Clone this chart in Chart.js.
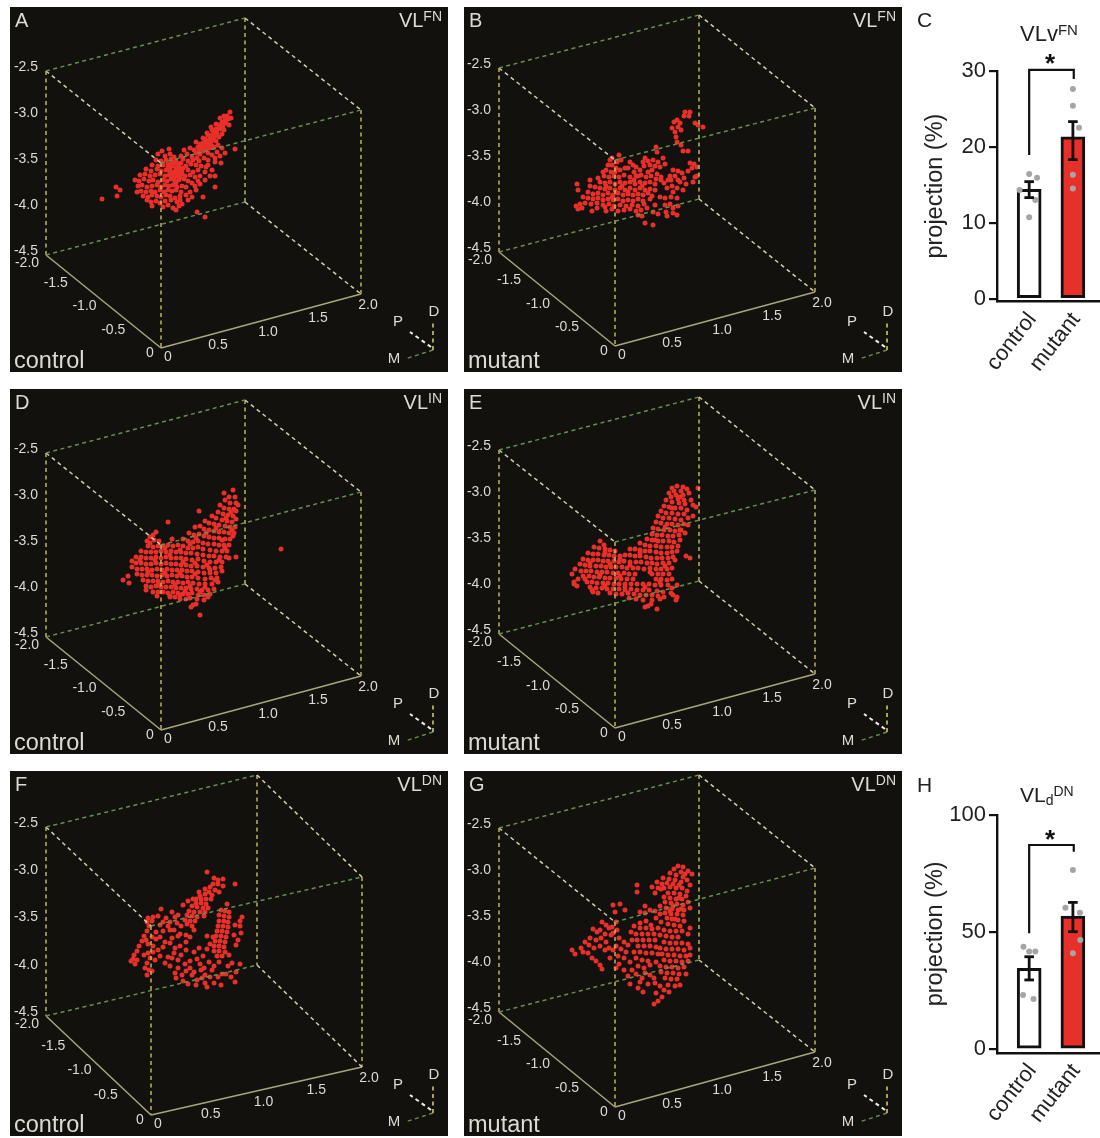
<!doctype html>
<html><head><meta charset="utf-8">
<style>html,body{margin:0;background:#fff}body{position:relative;width:1100px;height:1138px;overflow:hidden}
canvas{position:absolute;filter:blur(0.4px)}</style>
<script src="https://cdn.jsdelivr.net/npm/chart.js@4/dist/chart.umd.min.js"></script>
</head><body>
<script>
// ---------- tick labels ----------
const zTicks=['-2.5','-3.0','-3.5','-4.0','-4.5'];
const yTicks=['-2.0','-1.5','-1.0','-0.5','0'];
const xTicks=['0','0.5','1.0','1.5','2.0'];
const barCategories=['control','mutant'];
// ---------- labelled cells, read as x,y pairs in the figure's plane ----------
const cellsA=[102,199,116,187,120,190,117,196,
230,112,231,118,228,119,225,120,226,123,222,122,223,126,219,125,220,129,216,129,217,133,214,132,215,136,212,135,213,139,210,138,211,142,207,141,208,145,205,144,206,148,202,147,203,151,199,150,200,154,196,153,
235,149,218,145,222,148,225,153,217,152,221,163,215,162,220,156,196,142,203,143,
169,149,162,151,158,154,165,156,170,154,174,157,181,156,187,154,192,157,197,158,
156,160,161,161,166,160,171,159,176,161,183,159,188,161,193,160,199,161,204,158,208,160,
152,165,158,166,163,165,168,164,172,166,177,165,181,163,186,166,191,164,196,165,201,166,206,167,
146,169,151,171,157,169,161,171,166,170,170,169,174,172,179,170,183,168,188,170,193,172,198,170,205,172,
140,175,145,174,150,176,155,175,160,174,165,176,169,175,173,174,177,176,181,174,185,176,190,175,195,177,200,176,
135,180,139,181,144,179,149,181,153,180,158,182,163,180,167,181,171,179,175,181,179,180,184,179,188,181,192,183,198,181,
138,186,142,185,147,187,152,186,157,185,161,187,165,185,169,186,173,185,177,187,182,186,186,187,195,186,
137,192,141,191,146,192,151,191,155,192,160,190,164,192,168,190,172,191,176,190,181,192,190,192,
143,196,148,197,152,195,157,196,161,197,166,195,170,196,175,198,180,196,186,195,
147,200,151,202,156,201,160,203,165,201,171,200,177,202,180,200,152,206,163,207,168,205,173,208,179,206,176,210,182,204,
203,197,215,187,197,212,205,217,172,162,176,168,178,164,174,163,179,167,175,172,172,177,177,172,180,177,170,172,168,167,182,172,174,178,176,183,
224,116,212,130,208,135,205,139,200,144,210,148,214,147,208,153,212,155,215,158,208,165,212,170,210,176,205,180,200,184,196,190,192,197,188,200,215,176,190,148,184,150,
229,125,224,130,219,137,222,134,216,141,212,146,227,116,220,118,216,124,211,127,207,133,203,138,198,147,194,150];
const cellsB=[685,112,690,112,684,116,689,116,677,120,674,122,680,123,672,128,678,127,675,132,681,130,676,137,695,123,698,125,703,127,677,142,681,145,683,151,688,151,
656,147,657,152,619,155,630,162,645,158,648,161,653,160,658,162,663,158,655,166,660,167,665,164,
690,163,694,164,692,168,697,167,688,171,695,177,693,182,697,176,
673,170,678,171,682,173,675,176,684,178,671,180,680,182,686,184,672,186,677,188,683,190,673,192,678,180,
668,180,664,183,670,176,667,188,661,180,
610,160,612,165,606,170,611,172,616,168,620,170,634,172,640,170,644,166,648,172,652,170,657,174,
604,176,609,177,614,176,619,177,624,175,630,177,636,176,641,175,646,177,651,176,656,179,661,177,
600,182,605,183,610,182,615,184,620,182,625,183,630,182,635,184,640,182,645,183,650,182,655,184,
590,180,577,184,578,190,590,186,595,187,600,188,605,189,610,188,615,190,620,188,625,190,630,188,635,190,640,188,645,190,650,189,655,190,
588,192,593,194,598,193,603,195,608,193,613,195,618,193,623,195,628,194,633,195,638,194,643,195,648,193,652,196,
583,197,588,198,593,199,598,198,603,200,608,199,613,200,618,199,623,201,628,200,633,201,638,199,643,201,650,199,660,197,665,198,671,197,677,198,
576,206,580,204,585,203,582,208,578,209,591,204,597,203,603,205,609,204,614,206,620,205,626,206,632,205,638,206,644,204,
592,211,597,208,605,207,612,209,618,211,624,210,630,209,636,211,641,210,647,208,655,205,
665,205,670,204,673,208,678,206,666,212,673,213,677,215,667,216,658,214,653,212,638,215,645,223,653,225,642,216,606,211,
621,160,628,168,617,162,636,167,643,162,598,178,603,172,615,172,625,168,633,165,638,176,650,165,612,158,608,165,622,186,628,192,612,197,606,186,634,180,642,186];
const cellsD=[281,549,123,580,128,576,129,583,236,557,193,605,196,604,191,607,200,615,168,522,199,511,153,535,156,532,147,541,150,537,
233,490,224,493,229,497,235,497,225,500,230,503,236,503,220,505,224,508,229,509,234,509,238,505,
218,512,223,514,228,515,233,516,236,511,212,516,216,518,222,520,227,521,232,522,236,519,
205,521,209,523,214,524,219,525,225,526,230,527,235,527,
195,527,200,526,204,529,209,530,214,531,219,532,224,532,229,533,234,533,
189,533,194,535,199,534,204,536,209,537,214,538,219,538,225,539,230,539,233,536,
154,540,159,541,172,539,183,539,188,541,193,542,198,541,203,543,208,544,214,544,219,545,224,545,229,545,
148,546,153,547,158,546,163,546,168,545,173,546,178,545,183,546,188,548,193,548,198,547,203,549,210,550,216,551,222,551,227,551,
141,551,146,552,151,552,156,552,161,551,166,552,171,551,176,552,181,552,186,553,191,553,197,554,203,555,209,556,214,556,220,557,226,557,
136,557,141,557,146,558,151,558,156,557,161,558,166,557,171,558,176,558,181,558,186,559,192,560,198,559,204,561,210,562,216,562,222,562,229,558,
132,561,136,563,141,563,146,564,151,564,156,563,161,564,166,563,171,564,176,564,181,565,186,565,191,566,197,566,203,567,209,568,215,568,221,567,
132,567,137,569,142,569,147,569,152,570,157,569,162,570,167,569,172,570,177,570,182,570,187,571,192,571,198,572,204,573,210,573,216,573,222,571,
137,574,142,575,147,575,152,575,157,576,162,575,167,576,172,575,177,576,182,576,187,577,192,577,198,578,205,579,211,578,217,578,
143,580,148,581,153,581,158,581,163,582,168,581,173,582,178,582,183,583,188,582,193,583,199,584,205,584,212,584,218,582,
146,586,151,587,156,586,161,587,166,587,171,587,176,588,181,588,186,588,191,589,197,589,202,590,208,590,214,589,
146,590,153,592,158,592,163,592,168,593,173,592,178,593,183,594,188,594,192,593,198,595,204,595,210,594,
157,596,170,597,175,597,180,599,186,599,190,598,197,599,204,600,208,597,
150,543,165,548,180,550,190,544,196,538,206,533,216,528,226,518,231,512,140,560,155,560,170,555,183,562,195,563,207,565,219,560,148,572,165,573,180,573,195,574,210,570,158,585,175,585,190,586,205,587,170,596,185,591,200,592,215,580,225,548,232,530,222,540,180,595];
const cellsE=[683,487,677,486,672,488,698,488,687,489,681,491,674,491,669,493,676,495,683,495,689,493,
671,497,678,499,684,500,666,500,672,502,679,503,685,504,693,505,691,500,
664,506,669,507,675,508,681,508,687,510,696,507,661,511,666,513,672,513,678,514,684,514,
658,516,663,518,669,518,675,519,681,520,688,518,693,516,656,522,661,523,667,524,672,524,678,525,684,524,
653,528,658,529,664,530,670,530,675,531,681,530,652,534,657,535,662,535,668,536,673,536,679,535,685,533,
647,539,652,540,658,541,663,541,669,541,674,542,680,540,600,541,604,545,640,543,645,545,650,546,656,546,661,547,667,547,672,547,678,546,
594,547,599,548,605,549,610,550,615,551,630,549,635,549,640,550,645,551,650,551,656,552,661,553,667,553,672,552,677,551,
588,553,593,554,598,554,604,555,609,555,614,556,620,556,625,555,630,555,635,556,640,556,646,557,651,558,657,558,662,558,668,558,673,557,690,558,686,556,
583,559,588,560,593,560,598,560,603,561,608,561,614,561,619,562,624,561,630,562,636,562,641,562,647,563,652,563,657,564,663,563,669,563,
580,564,585,565,590,566,596,566,601,566,606,567,611,567,616,567,622,567,627,568,633,568,638,568,644,569,650,568,656,569,661,569,667,569,672,568,
575,569,581,571,586,571,591,571,597,572,602,572,607,572,613,573,618,573,624,573,629,574,635,574,652,574,658,574,663,574,669,574,
572,574,583,576,589,576,594,577,599,577,605,578,610,578,616,578,621,579,627,579,633,579,656,579,661,579,667,580,672,579,
574,582,578,579,587,582,592,582,597,583,603,583,608,583,614,584,619,584,625,584,631,584,637,584,643,584,649,584,655,585,661,585,668,585,
574,584,577,586,590,587,596,588,602,588,607,589,613,589,619,589,625,590,631,589,637,590,643,590,649,590,657,591,663,592,672,588,677,585,
593,592,610,593,616,594,622,594,628,593,634,594,640,595,646,595,652,595,658,596,664,597,671,593,
592,590,598,593,629,598,636,599,643,600,652,600,660,599,673,595,677,597,676,600,
645,607,648,606,651,604,657,609,
605,552,620,559,640,553,655,540,665,527,672,508,680,497,590,563,610,564,630,565,650,572,665,566,600,575,620,576,585,579,605,586,625,587,645,587,660,582,675,560,680,530,688,525];
const cellsF=[207,872,214,878,218,880,223,879,213,884,218,884,223,886,210,887,205,889,215,890,219,892,235,884,205,894,212,895,200,896,
196,899,201,899,206,899,211,899,196,903,201,903,206,904,192,906,197,907,203,908,208,908,189,911,194,912,200,912,205,912,227,904,
161,909,187,915,192,916,197,917,204,916,185,920,190,921,195,921,
148,918,153,917,158,916,166,918,175,917,147,922,152,921,163,922,170,922,177,923,181,926,187,924,192,926,
221,910,225,911,229,912,219,915,224,916,229,917,219,921,224,921,228,922,218,926,223,926,228,927,217,931,222,931,227,932,216,936,221,936,226,937,215,941,220,941,225,942,214,946,219,946,224,947,214,951,219,951,225,952,217,956,222,956,229,955,
242,917,240,921,235,925,240,926,241,933,234,935,238,940,236,945,
149,926,147,931,144,936,142,941,139,946,137,951,134,955,146,940,148,944,152,937,
133,959,137,960,131,961,135,964,144,955,148,953,150,958,147,963,149,970,147,975,145,968,152,971,
168,926,174,930,180,934,163,931,156,939,160,937,165,942,172,938,178,936,186,935,190,937,194,930,170,943,163,947,158,950,153,952,160,956,155,960,175,948,180,946,186,942,
168,957,165,963,172,958,178,960,185,964,190,961,197,959,203,956,207,949,210,944,213,937,207,936,
200,964,204,968,186,971,194,972,178,968,175,973,176,978,183,981,192,975,197,980,205,975,
209,962,212,970,210,977,205,983,207,987,214,983,218,977,222,974,226,974,231,977,235,982,221,985,240,964,236,972,
183,905,188,901,193,899,199,892,209,892,178,915,172,912,170,930,160,925,156,932,153,946,186,950,181,955,174,953,199,948,194,952,
170,966,182,975,190,968,201,970,214,966,219,962,228,966,232,963,196,985,202,978,188,984];
const cellsG=[572,950,575,954,581,948,583,952,602,922,606,925,609,928,600,930,605,934,597,932,593,929,611,935,590,938,596,940,601,938,606,942,585,942,589,945,594,948,600,946,605,950,609,948,588,953,592,958,596,961,600,965,602,969,
637,885,637,892,613,905,620,904,615,912,625,910,612,927,616,922,613,933,617,930,
678,866,683,867,674,869,681,872,688,871,692,874,670,873,676,875,683,877,663,878,669,879,675,880,681,882,687,880,690,885,
657,882,662,884,652,887,658,888,664,888,670,887,676,888,682,888,687,891,668,893,674,893,680,894,686,896,664,897,670,898,676,899,682,899,688,902,
665,902,671,903,677,904,683,905,660,906,666,908,672,909,678,910,684,910,690,908,665,913,671,914,677,914,683,915,
645,906,640,912,645,913,650,910,655,911,660,914,667,918,672,919,678,920,684,921,656,918,661,922,668,924,674,925,680,926,
640,923,646,921,651,925,634,926,640,928,646,928,652,929,658,928,664,930,670,931,676,931,682,931,
631,932,636,934,642,934,648,934,654,934,660,935,666,936,672,937,678,937,690,928,688,934,
619,938,624,942,628,945,616,946,621,949,626,952,618,956,624,958,630,962,619,964,632,940,637,940,643,940,649,940,655,940,
638,946,644,946,650,946,656,947,634,952,640,952,646,953,652,953,658,954,636,958,642,960,648,961,
664,942,670,943,676,943,682,943,688,944,660,948,666,949,672,949,678,949,684,950,690,948,662,954,668,955,674,955,680,956,686,956,690,955,
664,960,670,961,676,961,682,962,688,961,660,966,666,967,672,967,678,968,684,967,661,972,667,973,673,973,679,974,686,974,
632,970,638,966,644,968,650,965,656,962,665,978,671,979,677,979,668,985,675,986,680,985,655,983,660,986,664,990,669,992,656,993,662,997,658,1001,654,1004,645,973,650,975,642,978,643,992,638,988,
673,884,667,883,679,885,685,874,673,906,679,898,670,911,675,919,681,909,661,889,655,893,
613,950,610,958,616,968,624,970,628,976,636,974,640,982,630,984,648,984,654,978];
// ---------- bar panel values ----------
const fnMeans=[14.4,21.3],fnUpper=[15.4,23.3],fnLower=[13.3,18.3];
const fnControlDots=[[0,16.4],[0.18,15.9],[-0.22,14.3],[0.14,13.0],[0,10.7]];
const fnMutantDots=[[0,27.6],[0,25.4],[0.14,22.5],[0,16.3],[0,14.5]];
const fnBracket=[18.9,30.1,28.9];
const dnMeans=[34.6,56.9],dnUpper=[39.5,62.7],dnLower=[29.6,50.2];
const dnControlDots=[[-0.13,43.8],[0,41.7],[0.14,41.7],[-0.14,23.2],[0.1,21.5]];
const dnMutantDots=[[0,76.5],[-0.17,60.4],[0.16,58.3],[0.17,46.6],[0,41]];
const dnBracket=[49.5,87.2,84.3];

Chart.defaults.font.family="'Liberation Sans',Arial,sans-serif";
const RED='#e8302a',TXT='#dcdcd2',GREEN='#64924e',PALE='#d0d0ac',YEL='#bdb55c',AXIS='#a8a67c';
function pairs(a){const o=[];for(let i=0;i+1<a.length;i+=2)o.push({x:a[i],y:a[i+1]});return o}
function edge(a,b,c,solid,w){return{type:'scatter',showLine:true,data:[{x:a[0],y:a[1]},{x:b[0],y:b[1]}],borderColor:c,borderWidth:w||1.5,borderDash:solid?[]:[4,3.5],pointRadius:0,order:0}}
function runs(ctx,parts,x,y,color,right){
  ctx.save();ctx.fillStyle=color;ctx.textBaseline='alphabetic';ctx.textAlign='left';
  let w=0;parts.forEach(p=>{ctx.font=p.s+"px 'Liberation Sans'";w+=ctx.measureText(p.t).width});
  let cx=right?x-w:x;
  parts.forEach(p=>{ctx.font=p.s+"px 'Liberation Sans'";ctx.fillText(p.t,cx,y+(p.dy||0));cx+=ctx.measureText(p.t).width});
  ctx.restore();
}
function panel(cfg){
  const [L,T,R,B]=cfg.box,c=cfg.cube;
  const cv=document.createElement('canvas');cv.width=R-L;cv.height=B-T;
  cv.style.left=L+'px';cv.style.top=T+'px';document.body.appendChild(cv);
  const ds=[
    edge(c.tl,c.tb,GREEN),edge(c.tb,c.tr,PALE),edge(c.tl,c.tc,PALE),edge(c.tc,c.tr,GREEN),
    edge(c.bl,c.bb,GREEN),edge(c.bb,c.br,PALE),
    edge(c.tl,c.bl,YEL),edge(c.tb,c.bb,YEL),edge(c.tr,c.br,YEL),edge(c.tc,c.f,YEL),
    edge(c.bl,c.f,AXIS,true),edge(c.f,c.br,AXIS,true),
    edge(c.o,[c.o[0],c.o[1]-28],YEL,false,1.8),edge([c.o[0]-2,c.o[1]-3],[c.o[0]-23,c.o[1]-18],'#eeeeee',false,2),edge(c.o,[c.o[0]-28,c.o[1]+9],GREEN,false,1.4),
    {type:'scatter',data:pairs(cfg.cells),backgroundColor:RED,borderWidth:0,pointRadius:2.5,order:5}
  ];
  new Chart(cv,{type:'scatter',data:{datasets:ds},options:{responsive:false,animation:false,events:[],
    layout:{padding:0,autoPadding:false},
    plugins:{legend:{display:false},tooltip:{enabled:false}},
    scales:{x:{type:'linear',display:false,min:L,max:R},y:{type:'linear',display:false,min:T,max:B,reverse:true}}},
    plugins:[{id:'bg',beforeDraw(ch){ch.ctx.save();ch.ctx.fillStyle='#12110e';ch.ctx.fillRect(0,0,R-L,B-T);ch.ctx.restore()},
      afterDraw(ch){const g=ch.ctx,sx=ch.scales.x,sy=ch.scales.y;
        const P=(x,y)=>[sx.getPixelForValue(x),sy.getPixelForValue(y)];
        const lerp=(a,b,t)=>[a[0]+(b[0]-a[0])*t,a[1]+(b[1]-a[1])*t];
        g.save();g.fillStyle=TXT;g.font="14px 'Liberation Sans'";g.textBaseline='middle';
        zTicks.forEach((t,i)=>{const q=lerp(c.tl,c.bl,i/4);const p=P(q[0]-8,q[1]-4);g.textAlign='right';g.fillText(t,p[0],p[1])});
        yTicks.forEach((t,i)=>{const q=lerp(c.bl,c.f,i/4);const last=i==4,first=i==0;
          const p=P(q[0]+(last?-11:-19),q[1]+(first?8:5));g.textAlign='center';g.fillText(t,p[0],p[1])});
        xTicks.forEach((t,i)=>{const q=lerp(c.f,c.br,i/4);const p=P(q[0]+7,q[1]+(i==0?9:11));g.textAlign='center';g.fillText(t,p[0],p[1])});
        g.font="15px 'Liberation Sans'";g.textAlign='center';
        let p=P(c.o[0]+1,c.o[1]-38);g.fillText('D',p[0],p[1]);
        p=P(c.o[0]-35,c.o[1]-28);g.fillText('P',p[0],p[1]);
        p=P(c.o[0]-39,c.o[1]+9);g.fillText('M',p[0],p[1]);
        g.restore();
        let a=P(L+5,T+20);runs(g,[{t:cfg.letter,s:20}],a[0],a[1],TXT);
        a=P(R-6,T+20);runs(g,[{t:'VL',s:20},{t:cfg.sup,s:14,dy:-6}],a[0],a[1],TXT,true);
        a=P(L+4,B-4);runs(g,[{t:cfg.group,s:23.5}],a[0],a[1],TXT);
      }}]});
}
function shift(c,dy){const o={};for(const k in c)o[k]=[c[k][0],c[k][1]+dy];return o}
const cubeLeft={tl:[46,71],tb:[245,18],tr:[361,110],tc:[161,163],bl:[46,255],bb:[245,202],br:[361,294],f:[161,348],o:[433,350]};
const cubeRight={tl:[499,68],tb:[699,15],tr:[815,108],tc:[615,160],bl:[499,252],bb:[699,199],br:[815,292],f:[615,346],o:[887,350]};
panel({box:[10,7,448,372],cube:cubeLeft,cells:cellsA,letter:'A',sup:'FN',group:'control'});
panel({box:[464,7,902,372],cube:cubeRight,cells:cellsB,letter:'B',sup:'FN',group:'mutant'});
panel({box:[10,389,448,754],cube:shift(cubeLeft,382),cells:cellsD,letter:'D',sup:'IN',group:'control'});
panel({box:[464,389,902,754],cube:shift(cubeRight,382),cells:cellsE,letter:'E',sup:'IN',group:'mutant'});
panel({box:[10,771,448,1136],cube:{tl:[46,827],tb:[257,775],tr:[362,877],tc:[151,926],bl:[46,1016],bb:[257,965],br:[362,1067],f:[151,1115],o:[433,1113]},cells:cellsF,letter:'F',sup:'DN',group:'control'});
panel({box:[464,771,902,1136],cube:{tl:[499,828],tb:[699,775],tr:[815,868],tc:[615,922],bl:[499,1012],bb:[699,960],br:[815,1052],f:[615,1107],o:[887,1113]},cells:cellsG,letter:'G',sup:'DN',group:'mutant'});

function barPanel(cfg){
  const cv=document.createElement('canvas');cv.width=195;cv.height=cfg.h;
  cv.style.left='905px';cv.style.top=cfg.top+'px';document.body.appendChild(cv);
  const line=(pts,w)=>({type:'scatter',showLine:true,data:pts,borderColor:'#111',borderWidth:w||2.2,pointRadius:0,clip:false,order:0});
  const ds=[];
  [0,1].forEach(i=>{
    ds.push(line([{x:i,y:cfg.lower[i]},{x:i,y:cfg.upper[i]}],2.8));
    ds.push(line([{x:i-0.11,y:cfg.upper[i]},{x:i+0.11,y:cfg.upper[i]}],2.8));
    ds.push(line([{x:i-0.11,y:cfg.lower[i]},{x:i+0.11,y:cfg.lower[i]}],2.8));
  });
  ds.push(line([{x:0,y:cfg.bracket[0]},{x:0,y:cfg.bracket[1]},{x:1.02,y:cfg.bracket[1]},{x:1.02,y:cfg.bracket[2]}]));
  ds.push({type:'scatter',data:cfg.dots[0].map(d=>({x:d[0],y:d[1]})),backgroundColor:'#a8a4a6',pointRadius:3,borderWidth:0,clip:false,order:1});
  ds.push({type:'scatter',data:cfg.dots[1].map(d=>({x:1+d[0],y:d[1]})),backgroundColor:'#a8a4a6',pointRadius:3,borderWidth:0,clip:false,order:1});
  ds.push({type:'bar',data:cfg.means.map((m,i)=>({x:i,y:m})),backgroundColor:['#ffffff',RED],borderColor:'#111',borderWidth:3,borderSkipped:false,barThickness:24,order:3});
  new Chart(cv,{type:'bar',data:{datasets:ds},options:{responsive:false,animation:false,events:[],
    layout:{padding:{top:cfg.padTop,left:0,right:0,bottom:0},autoPadding:false},
    plugins:{legend:{display:false},tooltip:{enabled:false}},
    scales:{
      x:{type:'linear',offset:false,min:-0.736,max:1.62,
        afterBuildTicks(s){s.ticks=[{value:0},{value:1}]},
        afterFit(s){s.height=cfg.bottom;s.paddingLeft=0;s.paddingRight=0},
        grid:{display:true,offset:false,drawOnChartArea:false,drawTicks:false},
        border:{color:'#111',width:2.4},
        ticks:{autoSkip:false,minRotation:52,maxRotation:52,padding:6,labelOffset:3,color:'#222',font:{size:22},callback:v=>barCategories[v]}},
      y:{type:'linear',min:cfg.min,max:cfg.max,
        afterBuildTicks(s){s.ticks=cfg.ticks.map(v=>({value:v}))},
        afterFit(s){s.width=92;s.paddingTop=0;s.paddingBottom=0},
        grid:{drawOnChartArea:false,drawTicks:true,tickLength:8,color:'#111',lineWidth:2.2},
        border:{color:'#111',width:2.4},
        ticks:{color:'#222',font:{size:22},padding:3,callback:v=>String(v)},
        title:{display:true,text:'projection (%)',color:'#222',font:{size:23.5},padding:{top:16,bottom:0}}}
    }},
    plugins:[{id:'labels',afterDraw(ch){const g=ch.ctx;
      runs(g,[{t:cfg.letter,s:21}],12,cfg.letterY,'#222');
      runs(g,cfg.title,115,cfg.titleY,'#222');
      g.save();g.fillStyle='#111';g.font="bold 26px 'Liberation Sans'";g.textAlign='center';g.textBaseline='middle';
      g.fillText('*',ch.scales.x.getPixelForValue(0.48),ch.scales.y.getPixelForValue(cfg.bracket[1])+cfg.starDy);g.restore();
    }}]});
}
barPanel({top:0,h:380,padTop:70.7,bottom:78.5,min:-0.37,max:30,ticks:[0,10,20,30],means:fnMeans,upper:fnUpper,lower:fnLower,dots:[fnControlDots,fnMutantDots],bracket:fnBracket,
  letter:'C',letterY:27,titleY:41,title:[{t:'VLv',s:22},{t:'FN',s:15,dy:-6}],starDy:-5});
barPanel({top:770,h:368,padTop:45,bottom:85.3,min:-1.45,max:100,ticks:[0,50,100],means:dnMeans,upper:dnUpper,lower:dnLower,dots:[dnControlDots,dnMutantDots],bracket:dnBracket,
  letter:'H',letterY:22,titleY:32,title:[{t:'VL',s:21},{t:'d',s:14,dy:3},{t:'DN',s:14,dy:-6}],starDy:-4});
</script>
</body></html>
